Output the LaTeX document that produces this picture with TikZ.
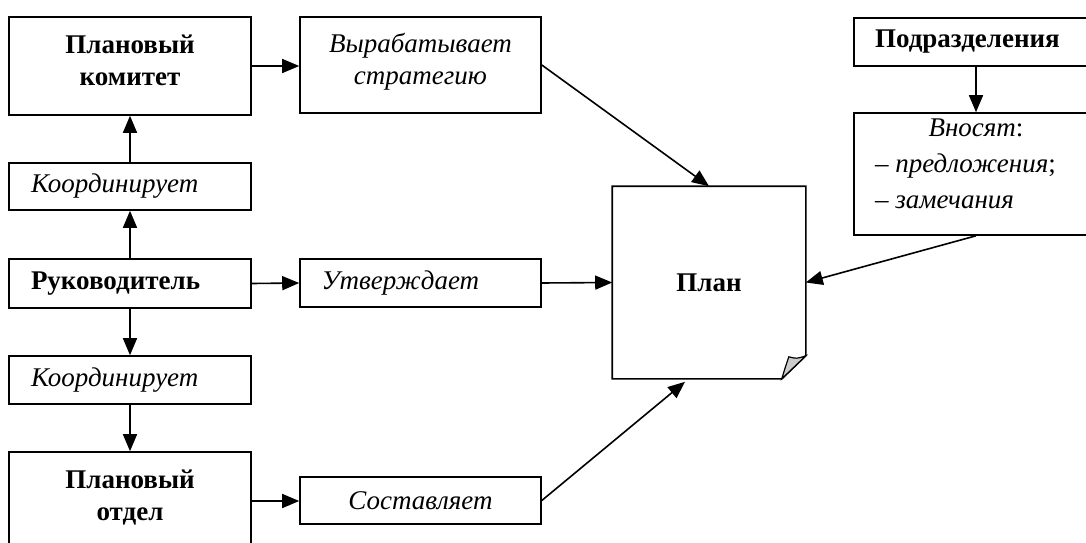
\documentclass[tikz,border=0pt]{standalone}
\usepackage{fontspec}
\setmainfont{Liberation Serif}
\usetikzlibrary{arrows.meta,calc}

\newcommand{\lline}[2][198pt]{\makebox[#1][l]{#2}}

\begin{document}
\begin{tikzpicture}[x=1pt, y=1pt, line width=1.6pt,
    box/.style={draw, rectangle, minimum width=242pt, align=center},
    twoline/.style={text depth=12pt},
    btext/.style={font=\fontsize{27}{32}\selectfont\bfseries},
    itext/.style={font=\fontsize{27}{32}\selectfont\itshape},
    arr/.style={-{Triangle[length=17pt, width=14pt]}}]
    \clip (0,0) rectangle (1086,542);
    % left column
    \node[box, btext, twoline, minimum height=98pt] (kom) at (130,476) {Плановый\\комитет};
    \node[box, itext, minimum height=47pt] (koord1) at (130,355.5) {\lline{Координирует}};
    \node[box, btext, minimum height=49pt] (ruk) at (130,258.5) {\lline{Руководитель}};
    \node[box, itext, minimum height=48pt] (koord2) at (130,162) {\lline{Координирует}};
    \node[box, btext, twoline, minimum height=98pt] (otdel) at (130,41) {Плановый\\отдел};
    % actions
    \node[box, itext, twoline, minimum width=241pt, minimum height=96pt] (strat) at (420.5,477) {Вырабатывает\\стратегию};
    \node[box, itext, minimum width=241pt, minimum height=48pt] (utv) at (420.5,259) {\lline{Утверждает}};
    \node[box, itext, minimum width=241pt, minimum height=47pt] (sost) at (420.5,41.5) {Составляет};
    % plan
    \node[btext, minimum width=192pt, minimum height=191pt] (plan) at (709,259.5) {План};
    \draw (plan.north west) -- (plan.north east) -- ($(plan.south east)+(0,23)$)
        -- ($(plan.south east)+(-24,0)$) -- (plan.south west) -- cycle;
    \draw[fill=gray!40, line width=1.2pt] ($(plan.south east)+(-24,0)$)
        .. controls ($(plan.south east)+(-21,10)$) .. ($(plan.south east)+(-17,22)$)
        .. controls ($(plan.south east)+(-9,20)$) .. ($(plan.south east)+(0,23)$) -- cycle;
    % right column
    \node[box, btext, minimum width=244pt, minimum height=48pt] (podr) at (976,500) {\lline[202pt]{Подразделения}};
    \node[box, font=\fontsize{27}{36}\selectfont\itshape, minimum width=244pt, minimum height=122pt,
        text depth=20pt] (vnos) at (976,368)
        {\makebox[202pt]{Вносят\textup{:}}\\
         \lline[202pt]{\textup{–} предложения\textup{;}}\\
         \lline[202pt]{\textup{–} замечания}};
    % arrows
    \draw[arr] (kom.east) -- (kom.east -| strat.west);
    \draw[arr] (koord1.north) -- (kom.south);
    \draw[arr] (ruk.north) -- (koord1.south);
    \draw[arr] (ruk.south) -- (koord2.north);
    \draw[arr] (koord2.south) -- (otdel.north);
    \draw[arr] (ruk.east) -- (utv.west);
    \draw[arr] (otdel.east) -- (otdel.east -| sost.west);
    \draw[arr] (strat.east) -- (plan.north);
    \draw[arr] (utv.east) -- (plan.west);
    \draw[arr] (sost.east) -- ($(plan.south)+(-24,-3)$);
    \draw[arr] (podr.south) -- (vnos.north);
    \draw[arr] (vnos.south) -- (plan.east);
\end{tikzpicture}
\end{document}
